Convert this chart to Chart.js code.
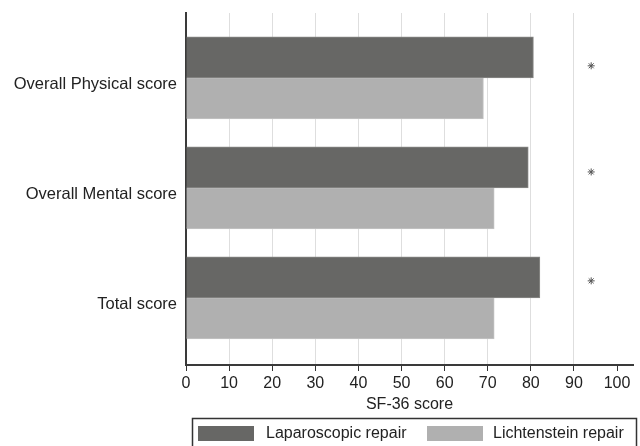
<!DOCTYPE html>
<html>
<head>
    <title>SF-36 score</title>
    <script src="https://cdn.jsdelivr.net/npm/chart.js"></script>
    <style>
        body { margin: 0; background: #fff; }
        #wrap { width: 640px; height: 446px; }
    </style>
</head>
<body>
    <div id="wrap"><canvas id="sfChart"></canvas></div>

    <script>
        // data
        const categories = ['Overall Physical score', 'Overall Mental score', 'Total score'];
        const laparoscopic = [80.6, 79.4, 82.1];
        const lichtenstein = [69.0, 71.5, 71.5];
        // significance markers (x value, y position in category units)
        const starX = [94, 94, 94];
        const starY = [-0.11, 0.855, 1.845];
        const xTicks = [0, 10, 20, 30, 40, 50, 60, 70, 80, 90, 100];

        Chart.defaults.font.family = '"Liberation Sans", Arial, sans-serif';
        Chart.defaults.font.size = 16;
        Chart.defaults.color = '#222';

        // boxed legend below the axis
        const boxLegend = {
            id: 'boxLegend',
            afterDraw(chart) {
                const ctx = chart.ctx;
                const ds = chart.data.datasets;
                ctx.save();
                ctx.strokeStyle = '#333';
                ctx.lineWidth = 1.5;
                ctx.strokeRect(192.5, 418.5, 444, 40);
                const items = [
                    { sx: 198, tx: 266, d: ds[0] },
                    { sx: 427, tx: 493, d: ds[1] }
                ];
                ctx.font = '16px "Liberation Sans", Arial, sans-serif';
                ctx.textBaseline = 'middle';
                items.forEach(it => {
                    ctx.fillStyle = it.d.backgroundColor;
                    ctx.fillRect(it.sx, 426, 56, 15);
                    ctx.fillStyle = '#222';
                    ctx.fillText(it.d.label, it.tx, 434);
                });
                ctx.restore();
            }
        };

        const ctx = document.getElementById('sfChart').getContext('2d');
        new Chart(ctx, {
            type: 'bar',
            data: {
                datasets: [
                    {
                        label: 'Laparoscopic repair',
                        indexAxis: 'y',
                        data: laparoscopic.map((v, i) => ({ x: v, y: i })),
                        backgroundColor: '#676765',
                        borderColor: '#8a8a88',
                        borderWidth: 1,
                        barThickness: 41
                    },
                    {
                        label: 'Lichtenstein repair',
                        indexAxis: 'y',
                        data: lichtenstein.map((v, i) => ({ x: v, y: i })),
                        backgroundColor: '#b0b0b0',
                        borderColor: '#c4c4c4',
                        borderWidth: 1,
                        barThickness: 41
                    },
                    {
                        type: 'scatter',
                        label: 'sig',
                        data: starX.map((v, i) => ({ x: v, y: starY[i] })),
                        pointStyle: 'star',
                        radius: 3.5,
                        borderColor: '#555',
                        borderWidth: 1,
                        showLine: false
                    }
                ]
            },
            options: {
                responsive: true,
                maintainAspectRatio: false,
                animation: false,
                layout: {
                    padding: { top: 13, right: 7, bottom: 28, left: 0 }
                },
                plugins: {
                    legend: { display: false },
                    tooltip: { enabled: false }
                },
                scales: {
                    x: {
                        type: 'linear',
                        position: 'bottom',
                        offset: false,
                        min: 0,
                        max: 103.7,
                        afterBuildTicks: scale => {
                            scale.ticks = xTicks.map(v => ({ value: v }));
                        },
                        ticks: {
                            padding: 3,
                            color: '#222',
                            maxRotation: 0
                        },
                        grid: {
                            offset: false,
                            color: c => (c.tick && (c.tick.value === 0 || c.tick.value === 100)) ? 'rgba(0,0,0,0)' : '#dedede',
                            tickColor: '#333',
                            tickLength: 6,
                            lineWidth: 1
                        },
                        border: { color: '#3a3a3a', width: 2 },
                        title: {
                            display: true,
                            text: 'SF-36 score',
                            color: '#222',
                            padding: { top: 0, bottom: 4 }
                        },
                        afterFit: scale => {
                            scale.height = 53;
                            scale.paddingLeft = 0;
                            scale.paddingRight = 0;
                        }
                    },
                    y: {
                        type: 'linear',
                        position: 'left',
                        offset: false,
                        reverse: true,
                        min: -0.59,
                        max: 2.61,
                        afterBuildTicks: scale => {
                            scale.ticks = categories.map((c, i) => ({ value: i }));
                        },
                        ticks: {
                            padding: 9,
                            labelOffset: 7,
                            color: '#222',
                            font: { size: 16.5 },
                            callback: v => categories[v]
                        },
                        grid: { display: false, drawTicks: false, offset: false },
                        border: { color: '#3a3a3a', width: 2 },
                        afterFit: scale => {
                            scale.width = 186;
                            scale.paddingTop = 0;
                            scale.paddingBottom = 0;
                        }
                    }
                }
            },
            plugins: [boxLegend]
        });
    </script>
</body>
</html>
